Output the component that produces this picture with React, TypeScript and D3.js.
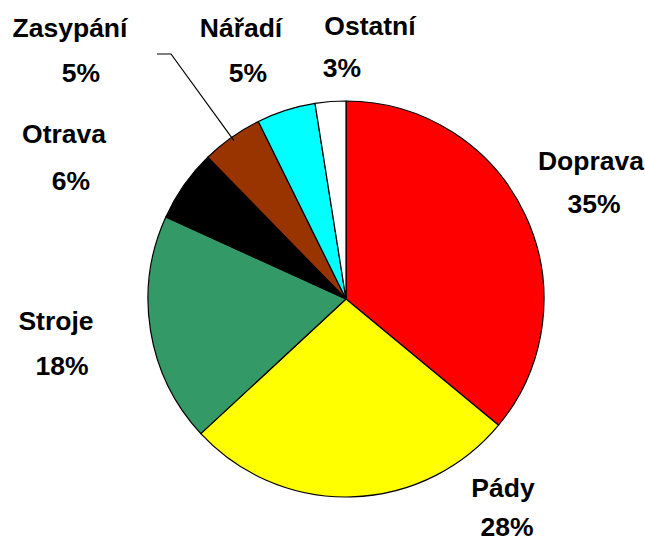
import React, { useEffect, useRef } from 'react';
import * as d3 from 'd3';

// slice data, clockwise from 12 o'clock
const categories = ['Doprava', 'Pády', 'Stroje', 'Otrava', 'Zasypání', 'Nářadí', 'Ostatní'];
const values = [36.0, 27.1, 18.7, 5.9, 5.0, 4.8, 2.5];
const percentLabels = ['35%', '28%', '18%', '6%', '5%', '5%', '3%'];
const colors = ['#ff0000', '#ffff00', '#339966', '#000000', '#993300', '#00ffff', '#ffffff'];

// label placement (centre x of each line, baselines)
const labelLayout = [
  { name: [591, 170], pct: [594, 213] },
  { name: [503, 497], pct: [507, 536] },
  { name: [56, 330], pct: [62, 375] },
  { name: [64, 143], pct: [71, 190] },
  { name: [70, 37], pct: [81, 82] },
  { name: [241, 37], pct: [248, 82] },
  { name: [370, 35], pct: [342, 77] },
];

const width = 645;
const height = 541;

const App: React.FC = () => {
  const svgRef = useRef<SVGSVGElement>(null);

  useEffect(() => {
    if (!svgRef.current) return;
    const svg = d3.select(svgRef.current);
    svg.selectAll('*').remove();

    const cx = 346;
    const cy = 299;
    const radius = 198;

    const pie = d3.pie<number>().sort(null).value(d => d);
    const arcs = pie(values);
    const arc = d3.arc<d3.PieArcDatum<number>>().innerRadius(0).outerRadius(radius);

    const g = svg.append('g').attr('transform', `translate(${cx},${cy})`);

    g.selectAll('path.slice')
      .data(arcs)
      .enter()
      .append('path')
      .attr('class', 'slice')
      .attr('d', arc)
      .attr('fill', (_, i) => colors[i])
      .attr('stroke', '#000')
      .attr('stroke-width', 1.2)
      .attr('stroke-linejoin', 'round');

    // leader line for Zasypání
    const zi = categories.indexOf('Zasypání');
    const tipArc = d3.arc<d3.PieArcDatum<number>>().innerRadius(radius * 0.98).outerRadius(radius * 0.98);
    const [tx, ty] = tipArc.centroid(arcs[zi]);
    svg.append('path')
      .attr('d', `M157,54 L171,54 L${cx + tx},${cy + ty}`)
      .attr('fill', 'none')
      .attr('stroke', '#000')
      .attr('stroke-width', 1.2);

    const labels = svg.append('g')
      .style('font-family', 'Arial, "Liberation Sans", sans-serif')
      .style('font-weight', 'bold')
      .style('font-size', '26.5px')
      .attr('fill', '#000')
      .attr('text-anchor', 'middle');

    categories.forEach((c, i) => {
      const l = labelLayout[i];
      labels.append('text').attr('x', l.name[0]).attr('y', l.name[1]).text(c);
      labels.append('text').attr('x', l.pct[0]).attr('y', l.pct[1]).text(percentLabels[i]);
    });
  }, []);

  return (
    <svg
      ref={svgRef}
      width={width}
      height={height}
      style={{ position: 'absolute', left: 0, top: 0, background: '#fff' }}
    />
  );
};

export default App;
